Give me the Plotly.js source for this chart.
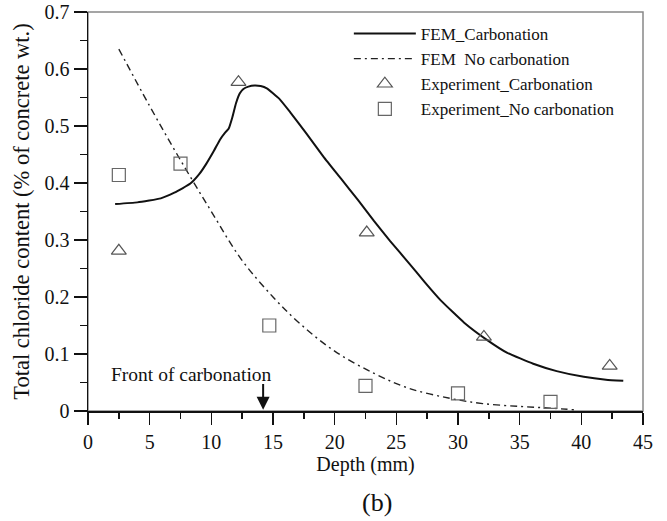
<!DOCTYPE html>
<html>
<head>
<meta charset="utf-8">
<script src="https://cdn.plot.ly/plotly-3.0.1.min.js"></script>
<style>html,body{margin:0;padding:0;background:#fff;}#chart{width:667px;height:521px;}</style>
</head>
<body>
<div id="chart"></div>
<script>
// FEM_Carbonation curve
var femCarbX = [2.2, 4, 5.9, 7, 8.3, 9.0, 9.6, 10.2, 10.7, 11.1, 11.4, 11.7, 12.0, 12.3, 12.6, 13.0, 13.5, 14.0, 14.5, 15.5, 16.4, 17.7, 19.1, 20.5, 21.9, 23.2, 24.5, 26, 27.3, 28.6, 30.5, 32.4, 34, 36.1, 38, 40.2, 42, 43.4];
var femCarbY = [0.363, 0.366, 0.373, 0.383, 0.399, 0.415, 0.434, 0.456, 0.476, 0.488, 0.495, 0.515, 0.540, 0.557, 0.565, 0.569, 0.571, 0.570, 0.566, 0.548, 0.524, 0.487, 0.446, 0.408, 0.370, 0.333, 0.298, 0.26, 0.226, 0.194, 0.155, 0.124, 0.102, 0.083, 0.070, 0.060, 0.055, 0.053];
// FEM No carbonation curve
var femNoX = [2.5, 5, 7.5, 10, 12.4, 15, 17.2, 20, 23.2, 26, 29.4, 32, 35, 37.5, 39.5];
var femNoY = [0.635, 0.535, 0.44, 0.35, 0.267, 0.2, 0.153, 0.105, 0.066, 0.04, 0.022, 0.013, 0.008, 0.005, 0.002];
// Experiments
var expCarbX = [2.5, 12.2, 22.6, 32.1, 42.3];
var expCarbY = [0.281, 0.577, 0.313, 0.130, 0.079];
var expNoX = [2.5, 7.5, 14.7, 22.5, 30.0, 37.5];
var expNoY = [0.414, 0.434, 0.15, 0.044, 0.031, 0.016];

var FONT = '"Liberation Serif", "Times New Roman", serif';

var traces = [
  {x: femCarbX, y: femCarbY, mode: 'lines', name: 'FEM_Carbonation',
   line: {color: '#111', width: 2, shape: 'spline', smoothing: 0.4}},
  {x: femNoX, y: femNoY, mode: 'lines', name: 'FEM  No carbonation',
   line: {color: '#222', width: 1.4, dash: '7px,4px,2px,4px', shape: 'spline'}},
  {x: expCarbX, y: expCarbY, mode: 'markers', name: 'Experiment_Carbonation',
   marker: {symbol: 'triangle-up-open', size: 13, color: '#555', line: {width: 1.2, color: '#555'}}},
  {x: expNoX, y: expNoY, mode: 'markers', name: 'Experiment_No carbonation',
   marker: {symbol: 'square-open', size: 13, color: '#666', line: {width: 1.2, color: '#666'}}}
];

var layout = {
  width: 667, height: 521,
  margin: {l: 87.5, r: 24.3, t: 12, b: 110.3},
  paper_bgcolor: '#fff', plot_bgcolor: '#fff',
  font: {family: FONT, size: 17, color: '#111'},
  showlegend: true,
  legend: {x: 0.47, y: 0.99, xanchor: 'left', yanchor: 'top', bgcolor: 'rgba(0,0,0,0)',
           font: {family: FONT, size: 17, color: '#111'}, itemwidth: 62, tracegroupgap: 0},
  xaxis: {range: [0, 45], dtick: 5, tick0: 0, ticks: 'outside', ticklen: 12, tickwidth: 1.5, tickcolor: '#111',
          showline: true, linecolor: '#111', linewidth: 1.5, showgrid: false, zeroline: false,
          tickfont: {family: FONT, size: 20, color: '#111'},
          minor: {dtick: 2.5, ticks: 'outside', ticklen: 6, tickwidth: 1.5, tickcolor: '#111', showgrid: false},
          title: {text: 'Depth (mm)', font: {family: FONT, size: 20, color: '#111'}, standoff: 4}},
  yaxis: {range: [0, 0.7], dtick: 0.1, tick0: 0, ticks: 'outside', ticklen: 13, tickwidth: 1.5, tickcolor: '#111',
          showline: true, linecolor: '#111', linewidth: 1.5, showgrid: false, zeroline: false,
          tickfont: {family: FONT, size: 20, color: '#111'},
          minor: {dtick: 0.05, ticks: 'outside', ticklen: 7, tickwidth: 1.5, tickcolor: '#111', showgrid: false},
          title: {text: 'Total chloride content (% of concrete wt.)', font: {family: FONT, size: 22.5, color: '#111'}, standoff: 8}},
  shapes: [
    {type: 'rect', xref: 'paper', yref: 'paper', x0: 0, x1: 1, y0: 0, y1: 1,
     line: {color: '#888', width: 1.5}, layer: 'below'}
  ],
  annotations: [
    {x: 8.4, y: 0.064, xref: 'x', yref: 'y', text: 'Front of carbonation', showarrow: false,
     font: {family: FONT, size: 19.5, color: '#111'}},
    {x: 14.2, y: 0.002, xref: 'x', yref: 'y', ax: 14.2, ay: 0.05, axref: 'x', ayref: 'y',
     text: '', showarrow: true, arrowhead: 2, arrowsize: 1.3, arrowwidth: 2, arrowcolor: '#111'},
    {x: 0.52, y: -0.23, xref: 'paper', yref: 'paper', yanchor: 'middle', text: '(b)', showarrow: false,
     font: {family: FONT, size: 26, color: '#111'}}
  ]
};

Plotly.newPlot('chart', traces, layout, {displayModeBar: false, staticPlot: true});
</script>
</body>
</html>
